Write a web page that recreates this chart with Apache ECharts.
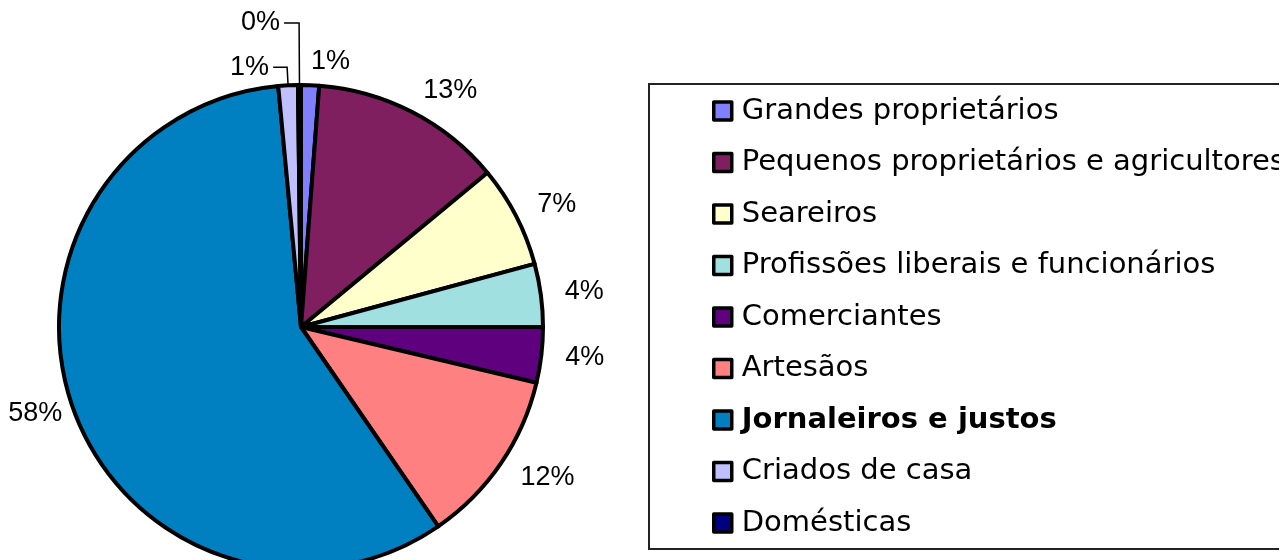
<!DOCTYPE html>
<html>
<head>
<meta charset="utf-8">
<script src="https://cdn.jsdelivr.net/npm/echarts@6/dist/echarts.min.js"></script>
<style>
    html, body { margin: 0; padding: 0; background: #fff; }
    #main { width: 1286px; height: 560px; }
</style>
</head>
<body>
<div id="main"></div>
<script>
// categorias (ordem do gráfico, sentido horário a partir do topo)
var categories = [
    'Grandes proprietários',
    'Pequenos proprietários e agricultores',
    'Seareiros',
    'Profissões liberais e funcionários',
    'Comerciantes',
    'Artesãos',
    'Jornaleiros e justos',
    'Criados de casa',
    'Domésticas'
];
// percentagens
var shares = [1.2, 12.8, 6.8, 4.2, 3.7, 11.7, 58.1, 1.3, 0.2];
var colors = ['#8080ff', '#7f1f5f', '#ffffcc', '#a0e0e0', '#5f007f', '#ff8080', '#0080c0', '#c0c0ff', '#000080'];

// linhas de chamada só para as fatias pequenas junto ao topo
var leaderLines = {
    'Criados de casa': { show: true, length: 18, length2: 14 },
    'Domésticas': { show: true, length: 62, length2: 15 },
    'Jornaleiros e justos': { show: false, length: 12, length2: 0 }
};

var pieData = categories.map(function(name, i) {
    var item = {
        name: name,
        value: shares[i],
        itemStyle: { color: colors[i] }
    };
    if (leaderLines[name]) {
        item.labelLine = leaderLines[name];
        if (leaderLines[name].show) {
            item.label = { distanceToLabelLine: 4 };
        }
    }
    return item;
});

var legendData = categories.map(function(name) {
    var d = { name: name };
    if (name === 'Jornaleiros e justos') {
        d.textStyle = { fontWeight: 'bold' };
    }
    return d;
});

var myChart = echarts.init(document.getElementById('main'));
var option = {
    animation: false,
    backgroundColor: '#fff',
    legend: {
        orient: 'vertical',
        left: 649,
        top: 84,
        padding: [11, 40, 10, 63],
        itemWidth: 18,
        itemHeight: 18,
        itemGap: 19.5,
        icon: 'rect',
        itemStyle: {
            borderColor: '#000',
            borderWidth: 3.5
        },
        borderColor: '#222',
        borderWidth: 2,
        borderRadius: 0,
        selectedMode: false,
        data: legendData,
        textStyle: {
            fontFamily: 'DejaVu Sans',
            fontSize: 29,
            color: '#000',
            lineHeight: 32,
            padding: [0, 0, 0, 5]
        }
    },
    graphic: [{
        type: 'rect',
        left: 1279,
        top: 0,
        z: 100,
        shape: { width: 10, height: 560 },
        style: { fill: '#fff' }
    }],
    series: [{
        type: 'pie',
        center: [301, 327],
        radius: 242,
        startAngle: 90,
        clockwise: true,
        avoidLabelOverlap: false,
        itemStyle: {
            borderColor: '#000',
            borderWidth: 4
        },
        emphasis: { disabled: true },
        label: {
            show: true,
            position: 'outside',
            distanceToLabelLine: 0,
            fontFamily: 'Liberation Sans',
            fontSize: 27,
            color: '#000',
            formatter: function(p) {
                return Math.round(p.percent) + '%';
            }
        },
        labelLine: {
            show: false,
            length: 24,
            length2: 0,
            smooth: false,
            lineStyle: { color: '#000', width: 1.5 }
        },
        data: pieData
    }]
};
myChart.setOption(option);
</script>
</body>
</html>
